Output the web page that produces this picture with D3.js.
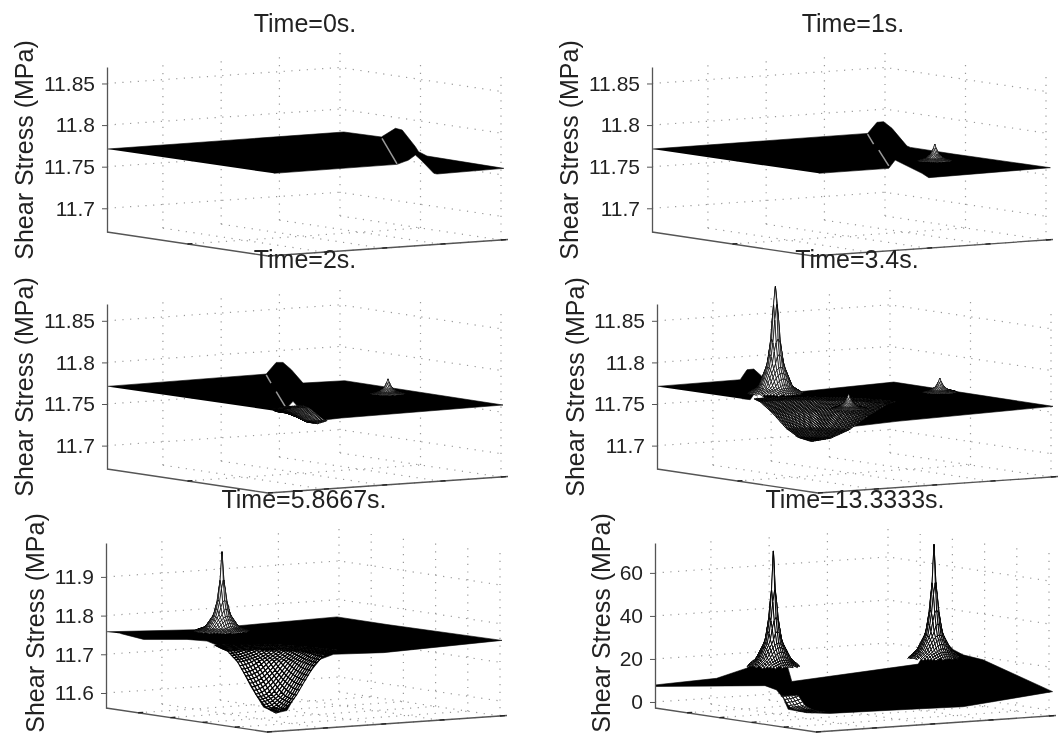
<!DOCTYPE html>
<html>
<head>
<meta charset="utf-8">
<script src="https://cdn.jsdelivr.net/npm/d3@7/dist/d3.min.js"></script>
<style>
  body { margin: 0; background: #fff; }
  svg { display: block; filter: blur(0.45px); }
  text { font-family: "Liberation Sans", Arial, sans-serif; fill: #222; }
</style>
</head>
<body>
<svg id="chart" width="1058" height="735"></svg>
<script>
// titles and z ticks
const titles = ["Time=0s.", "Time=1s.", "Time=2s.", "Time=3.4s.", "Time=5.8667s.", "Time=13.3333s."];
const zLimits = [[11.6715, 11.8698], [11.6715, 11.8698], [11.6719, 11.8702], [11.6719, 11.8702], [11.5612, 11.9876], [-2.8, 73.9]];
const zTicksFine = [11.7, 11.75, 11.8, 11.85];
const zTicksWide = [11.6, 11.7, 11.8, 11.9];
const zTicksMpa = [0, 20, 40, 60];

// grid positions along the two ground axes
const vTicks = [0.24, 0.49, 0.74, 1];
const uTicksCoarse = [0.5, 1];
const uTicksFine = [0.2, 0.4, 0.6, 0.8, 1];

// surface silhouettes: [across %, stress MPa]
const outline0 = [[0, 11.7712], [59.2, 11.7917], [68.6, 11.7857], [72.1, 11.7961], [73.8, 11.7941], [77.1, 11.774], [77.9, 11.768], [80, 11.7628], [99.2, 11.748], [82.5, 11.7412], [81.7, 11.742], [78.5, 11.758], [77.1, 11.764], [75.4, 11.758], [72.5, 11.7528], [41.7, 11.742]];
const outline1 = [[0, 11.7712], [53.9, 11.79], [56.25, 11.8033], [57.9, 11.8041], [60, 11.7961], [63.75, 11.7748], [64.6, 11.7732], [75.4, 11.7652], [99.6, 11.7488], [69.2, 11.7368], [67.5, 11.742], [60.8, 11.758], [59.2, 11.748], [41.7, 11.742]];
const outline2 = [[0, 11.7712], [39.8, 11.786], [42.3, 11.8], [44, 11.8], [46.1, 11.7912], [49, 11.7752], [59.4, 11.778], [99, 11.7488], [58.6, 11.7332], [54.8, 11.7312], [52.6, 11.7264], [50.7, 11.7312], [46.5, 11.7532], [44.4, 11.7424], [42.3, 11.7416]];
const outline3 = [[0, 11.7712], [20.8, 11.7792], [22.5, 11.7912], [24.2, 11.792], [26.25, 11.7832], [32.5, 11.7632], [59.2, 11.7764], [99, 11.7472], [60, 11.7292], [45.8, 11.7212], [41.7, 11.708], [38.3, 11.7052], [35, 11.7104], [32.5, 11.7272], [25, 11.7672], [23.3, 11.7552], [21.25, 11.7564]];
const outline4 = [[0, 11.7581], [24.8, 11.7641], [31.9, 11.7726], [57.75, 11.7966], [70.25, 11.7769], [99, 11.7359], [69.4, 11.7043], [56.9, 11.7], [53.6, 11.6872], [50.25, 11.6444], [46.9, 11.5846], [45.25, 11.5547], [42.75, 11.5487], [39.4, 11.5632], [36.1, 11.6188], [32.75, 11.6872], [30.25, 11.7128], [25.25, 11.7342], [20.25, 11.7385], [9.4, 11.7385], [3.6, 11.7538]];
const outline5 = [[0, 7.9], [15.4, 11], [22.9, 15.7], [27, 21.2], [28.3, 28.9], [31.7, 28.9], [32.9, 18], [34.2, 9.5], [65.8, 17.6], [67.9, 24.3], [68.75, 36.7], [70.8, 36.7], [72.1, 28.9], [74.6, 24.3], [77, 21.9], [82, 19.6], [99.4, 4.8], [77, -2.2], [60.4, -3.7], [43.75, -5.3], [37.9, -5], [33.3, -3.4], [32.1, 1.7], [30.4, 5.6], [27.5, 7.6], [0, 7.2]];

// pale seams across the wave front: pairs of [across %, stress MPa]
const seams0 = [[[68.75, 11.784], [72.5, 11.7535]]];
const seams1 = [[[53.9, 11.789], [55.4, 11.7772]], [[56.7, 11.77], [59.2, 11.751]]];
const seams2 = [[[39.8, 11.785], [41, 11.775]], [[42.3, 11.765], [44.8, 11.745]]];

// height falling away from a feature: distance on the ground, share of its height
const spikeDist = [0, 0.008, 0.015, 0.03, 0.06, 0.1, 0.15];
const spikeShare = [1, 0.65, 0.42, 0.22, 0.07, 0.02, 0];
const flareDist = [0, 0.008, 0.015, 0.03, 0.06, 0.1, 0.2, 0.3];
const flareShare = [1, 0.7, 0.5, 0.3, 0.17, 0.09, 0.025, 0];
const bowlDist = [0, 0.06, 0.12, 0.18, 0.24, 0.3, 0.38];
const bowlShare = [1, 0.93, 0.75, 0.48, 0.22, 0.07, 0];
const troughDist = [0, 0.08, 0.16, 0.24, 0.32, 0.4];
const troughShare = [1, 0.95, 0.75, 0.4, 0.12, 0];
const smallDipDist = [0, 0.04, 0.08, 0.12, 0.16];
const smallDipShare = [1, 0.85, 0.45, 0.12, 0];
const lipDist = [0, 0.1, 0.14, 0.18, 0.25];
const lipShare = [1, 1, 0.8, 0.1, 0];

// meshed features, heights
const spikes1 = [{ at: [70.7, 11.756], amp: 0.0212, shape: "spike", step: 0.005, n: 12, w: 0.5 }];
const spikes2 = [{ at: [70.25, 11.7612], amp: 0.019, shape: "spike", step: 0.005, n: 12, w: 0.5 },
  { at: [52.6, 11.7432], amp: -0.0168, shape: "smallDip", step: 0.007, i: [-22, 0], j: [-22, 6], w: 0.75 }];
const spikes3 = [{ at: [29.6, 11.7592], amp: 0.17, cap: 0.132, shape: "spike", step: 0.008, n: 12, w: 0.7 },
  { at: [38.75, 11.7484], amp: -0.0432, shape: "trough", step: 0.0075, i: [-48, 0], j: [0, 48], w: 0.95 },
  { at: [47.9, 11.7432], amp: 0.0192, shape: "spike", step: 0.005, n: 12, w: 0.5 },
  { at: [70.7, 11.7632], amp: 0.018, shape: "spike", step: 0.005, n: 12, w: 0.5 }];
const spikes4 = [{ at: [29, 11.7556], amp: 0.2094, shape: "spike", step: 0.008, n: 12, w: 0.7 },
  { at: [42.5, 11.7], amp: -0.152, shape: "bowl", vStretch: 1.45, step: 0.0125, i: [-30, 0], j: [0, 21], w: 1.15 }];
const spikes5 = [{ at: [29.6, 10.3], amp: 59.9, shape: "flare", step: 0.008, n: 11, w: 0.95 },
  { at: [69.75, 14.2], amp: 59, shape: "flare", step: 0.008, n: 11, w: 0.95 },
  { at: [39.2, 1.2], amp: -6.2, shape: "lip", step: 0.012, i: [-16, 0], j: [0, 5], w: 0.8 }];

const shapes = {
  spike: d3.scaleLinear().domain(spikeDist).range(spikeShare).clamp(true),
  flare: d3.scaleLinear().domain(flareDist).range(flareShare).clamp(true),
  bowl: d3.scaleLinear().domain(bowlDist).range(bowlShare).clamp(true),
  trough: d3.scaleLinear().domain(troughDist).range(troughShare).clamp(true),
  smallDip: d3.scaleLinear().domain(smallDipDist).range(smallDipShare).clamp(true),
  lip: d3.scaleLinear().domain(lipDist).range(lipShare).clamp(true)
};

// layout
const origins = [[107, 232], [652, 232], [107, 469], [657, 469], [106, 708], [655, 708]];
const titleAt = [[305, 32], [853, 32], [305, 268], [857, 268], [304, 508], [855, 508]];
const labelAt = [[33, 150], [578, 150], [33, 387], [584, 387], [44, 623], [610, 623]];
const boxHeight = 165;
const zTickSets = [zTicksFine, zTicksFine, zTicksFine, zTicksFine, zTicksWide, zTicksMpa];
const uTickSets = [uTicksCoarse, uTicksCoarse, uTicksCoarse, uTicksCoarse, uTicksFine, uTicksFine];
const outlines = [outline0, outline1, outline2, outline3, outline4, outline5];
const seamSets = [seams0, seams1, seams2, [], [], []];
const meshSets = [[], spikes1, spikes2, spikes3, spikes4, spikes5];

// ground plane projection
const uX = d3.scaleLinear().domain([0, 1]).range([0, 161]);
const uY = d3.scaleLinear().domain([0, 1]).range([0, 24]);
const vX = d3.scaleLinear().domain([0, 1]).range([0, 233]);
const vY = d3.scaleLinear().domain([0, 1]).range([0, -16]);
const across = d3.scaleLinear().domain([0, 100]).range([0, 400]);

const svg = d3.select("#chart");

function drawMesh(g, z, m) {
  const shape = shapes[m.shape];
  const iRange = m.i || [-m.n, m.n];
  const jRange = m.j || [-m.n, m.n];
  const stretch = m.vStretch || 1;
  const reach = Math.max(Math.abs(iRange[0]), Math.abs(iRange[1]), Math.abs(jRange[0] * stretch), Math.abs(jRange[1] * stretch));
  const node = (i, j) => {
    const u = i * m.step, v = j * m.step;
    let h = m.amp * shape(Math.hypot(u, v * stretch));
    if (m.cap !== undefined) h = Math.min(h, m.cap);
    return [across(m.at[0]) + uX(u) + vX(v), z(m.at[1] + h) + uY(u) + vY(v)];
  };
  const quads = [];
  for (let i = iRange[0]; i < iRange[1]; i++) {
    for (let j = jRange[0]; j < jRange[1]; j++) {
      if (Math.hypot(i + 0.5, (j + 0.5) * stretch) > reach) continue; // round patch, no corners sticking out
      quads.push({ depth: j - i, pts: [node(i, j), node(i + 1, j), node(i + 1, j + 1), node(i, j + 1)] });
    }
  }
  quads.sort((a, b) => b.depth - a.depth);
  const line = d3.line();
  g.append("g")
    .selectAll("path")
    .data(quads)
    .join("path")
    .attr("d", (d) => line(d.pts) + "Z")
    .attr("fill", "#fff")
    .attr("stroke", "#000")
    .attr("stroke-width", m.w);
}

titles.forEach((title, p) => {
  const [ox, oy] = origins[p];
  const g = svg.append("g").attr("transform", "translate(" + ox + "," + oy + ")");
  const z = d3.scaleLinear().domain(zLimits[p]).range([0, -boxHeight]);
  const groundX = (u, v) => uX(u) + vX(v);
  const groundY = (u, v) => uY(u) + vY(v);
  const uTicks = uTickSets[p];

  // dotted box grid
  const dots = [];
  vTicks.forEach((v) => {
    dots.push([[groundX(0, v), groundY(0, v)], [groundX(0, v), groundY(0, v) - boxHeight]]);
    dots.push([[groundX(0, v), groundY(0, v)], [groundX(1, v), groundY(1, v)]]);
  });
  uTicks.forEach((u) => {
    dots.push([[groundX(u, 1), groundY(u, 1)], [groundX(u, 1), groundY(u, 1) - boxHeight]]);
    dots.push([[groundX(u, 0), groundY(u, 0)], [groundX(u, 1), groundY(u, 1)]]);
  });
  zTickSets[p].forEach((t) => {
    dots.push([[0, z(t)], [groundX(0, 1), groundY(0, 1) + z(t)], [groundX(1, 1), groundY(1, 1) + z(t)]]);
  });
  g.append("g")
    .selectAll("path")
    .data(dots)
    .join("path")
    .attr("d", d3.line())
    .attr("fill", "none")
    .attr("stroke", "#999")
    .attr("stroke-width", 1.2)
    .attr("stroke-dasharray", "1.2 6.5");

  // ground axes
  g.append("path")
    .attr("d", d3.line()([[0, 0], [groundX(1, 0), groundY(1, 0)], [groundX(1, 1.03), groundY(1, 1.03)]]))
    .attr("fill", "none")
    .attr("stroke", "#555")
    .attr("stroke-width", 1.3);
  g.append("g")
    .selectAll("path")
    .data(uTicks.map((u) => [u, 0]).concat(vTicks.map((v) => [1, v])))
    .join("path")
    .attr("d", (d) => d3.line()([[groundX(d[0], d[1]), groundY(d[0], d[1])], [groundX(d[0], d[1]) + 5, groundY(d[0], d[1]) - 0.4]]))
    .attr("stroke", "#222")
    .attr("stroke-width", 1.4);

  // surface
  g.append("path")
    .datum(outlines[p])
    .attr("d", d3.line().x((d) => across(d[0])).y((d) => z(d[1])))
    .attr("fill", "#000")
    .attr("stroke", "#000")
    .attr("stroke-width", 0.6);
  g.append("g")
    .selectAll("path")
    .data(seamSets[p])
    .join("path")
    .attr("d", d3.line().x((d) => across(d[0])).y((d) => z(d[1])))
    .attr("fill", "none")
    .attr("stroke", "#9a9a9a")
    .attr("stroke-width", 1.5);
  meshSets[p].forEach((m) => drawMesh(g, z, m));

  // z axis
  const axis = g.append("g").call(
    d3.axisLeft(z).tickValues(zTickSets[p]).tickSize(5).tickSizeOuter(0).tickPadding(7).tickFormat((d) => d)
  );
  axis.select(".domain").attr("stroke", "#555").attr("stroke-width", 1.3);
  axis.selectAll(".tick line").attr("stroke", "#555");
  axis.selectAll("text").style("font-size", "21px").style("font-family", '"Liberation Sans"').attr("fill", "#222");

  svg.append("text")
    .attr("x", titleAt[p][0])
    .attr("y", titleAt[p][1])
    .attr("text-anchor", "middle")
    .style("font-size", "25px")
    .text(title);
  svg.append("text")
    .attr("transform", "translate(" + labelAt[p][0] + "," + labelAt[p][1] + ") rotate(-90)")
    .attr("text-anchor", "middle")
    .style("font-size", "25px")
    .text("Shear Stress (MPa)");
});
</script>
</body>
</html>
